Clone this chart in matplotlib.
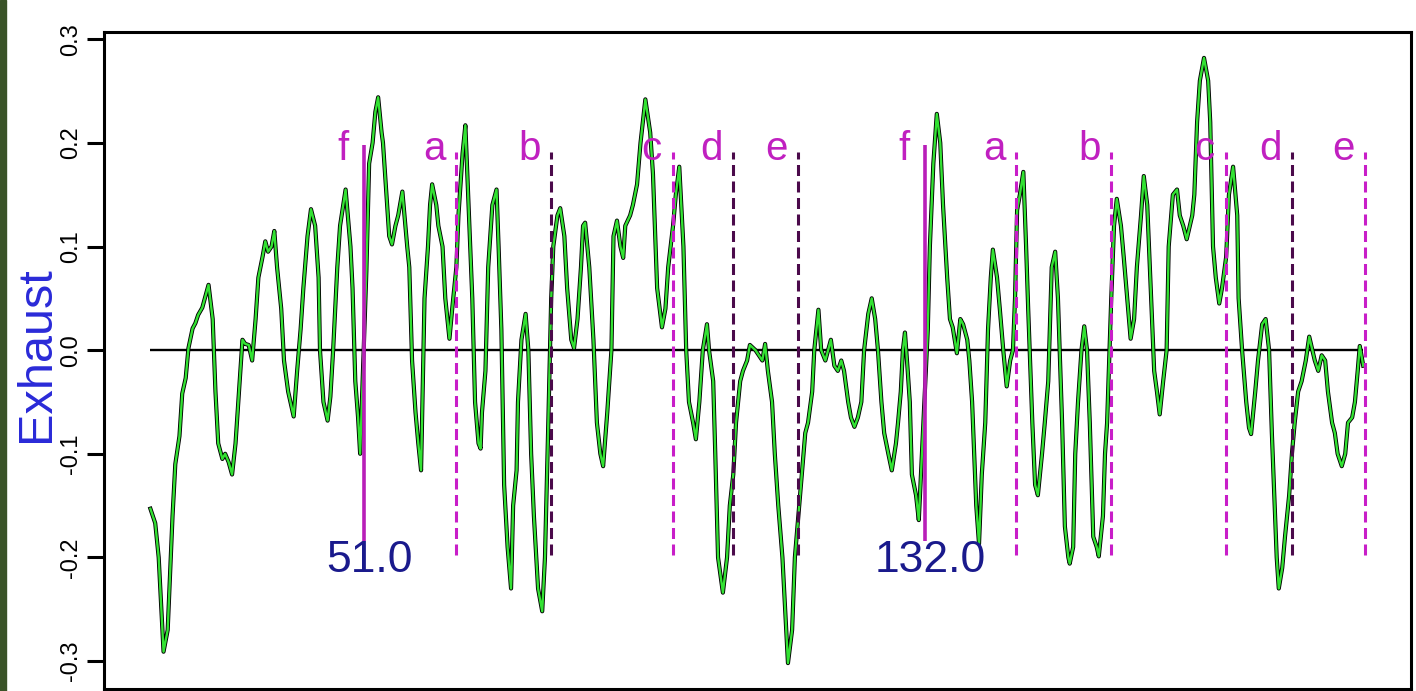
import numpy as np
import matplotlib.pyplot as plt
from matplotlib.patches import Rectangle

plt.rcParams['font.family'] = ['Liberation Sans', 'DejaVu Sans']
plt.rcParams['axes.unicode_minus'] = False

# exhaust trace (time, value) - turning points
trace = [
    (20.1, -0.153), (20.8, -0.167), (21.3, -0.2), (22.0, -0.291), (22.6, -0.27),
    (23.3, -0.16), (23.7, -0.11), (24.3, -0.083), (24.7, -0.042), (25.2, -0.027),
    (25.6, 0.002), (26.2, 0.021), (26.6, 0.026), (27.0, 0.034), (27.6, 0.041),
    (28.5, 0.063), (29.1, 0.03), (29.5, -0.04), (29.9, -0.09), (30.5, -0.105),
    (30.9, -0.1), (31.4, -0.108), (31.9, -0.12), (32.4, -0.09), (32.8, -0.05),
    (33.4, 0.01), (33.8, 0.006), (34.3, 0.005), (34.8, -0.01), (35.3, 0.03),
    (35.7, 0.07), (36.3, 0.09), (36.7, 0.105), (37.1, 0.095), (37.6, 0.1),
    (38.0, 0.115), (38.4, 0.08), (39.0, 0.04), (39.4, -0.01), (40.0, -0.04),
    (40.8, -0.064), (41.3, -0.02), (41.8, 0.02), (42.2, 0.06), (42.8, 0.11),
    (43.3, 0.136), (43.9, 0.12), (44.4, 0.07), (44.6, 0.0), (45.1, -0.05),
    (45.7, -0.068), (46.1, -0.045), (46.5, 0.0), (47.1, 0.08), (47.5, 0.12),
    (48.3, 0.155), (49.0, 0.1), (49.3, 0.06), (49.7, -0.03), (50.1, -0.065),
    (50.4, -0.1), (51.3, 0.076), (51.7, 0.18), (52.2, 0.2), (52.6, 0.23),
    (53.0, 0.244), (53.5, 0.21), (53.7, 0.2), (54.3, 0.14), (54.6, 0.11),
    (55.0, 0.102), (55.5, 0.12), (55.9, 0.13), (56.5, 0.153), (57.2, 0.1),
    (57.5, 0.08), (57.9, -0.01), (58.4, -0.06), (58.8, -0.09), (59.2, -0.116),
    (59.7, 0.05), (60.2, 0.1), (60.5, 0.14), (60.8, 0.16), (61.4, 0.14),
    (61.7, 0.12), (62.3, 0.1), (62.7, 0.05), (63.3, 0.011), (63.7, 0.04),
    (64.3, 0.08), (64.6, 0.13), (65.2, 0.19), (65.6, 0.217), (66.0, 0.15),
    (66.6, 0.05), (67.0, -0.05), (67.5, -0.09), (67.8, -0.095), (68.0, -0.06),
    (68.5, -0.02), (68.9, 0.08), (69.5, 0.14), (70.1, 0.155), (70.4, 0.1),
    (70.8, 0.02), (71.2, -0.13), (71.7, -0.19), (72.2, -0.23), (72.5, -0.15),
    (73.0, -0.116), (73.2, -0.05), (73.7, 0.01), (74.3, 0.035), (74.7, 0.0),
    (75.1, -0.1), (75.5, -0.16), (76.1, -0.23), (76.7, -0.252), (77.1, -0.2),
    (77.6, -0.065), (78.0, 0.05), (78.3, 0.1), (78.9, 0.13), (79.3, 0.137),
    (79.9, 0.11), (80.3, 0.06), (80.9, 0.01), (81.3, 0.002), (81.8, 0.03),
    (82.3, 0.08), (82.6, 0.12), (82.9, 0.123), (83.5, 0.08), (84.1, 0.01),
    (84.6, -0.07), (85.1, -0.1), (85.5, -0.112), (86.1, -0.06), (86.7, 0.0),
    (87.0, 0.11), (87.5, 0.125), (88.0, 0.1), (88.4, 0.089), (88.7, 0.12),
    (89.4, 0.13), (89.8, 0.14), (90.4, 0.16), (90.9, 0.2), (91.6, 0.242),
    (92.3, 0.21), (92.7, 0.17), (93.3, 0.06), (94.0, 0.022), (94.5, 0.04),
    (94.9, 0.08), (95.6, 0.12), (96.0, 0.15), (96.5, 0.177), (97.1, 0.1),
    (97.5, 0.0), (97.9, -0.05), (98.5, -0.07), (98.9, -0.086), (99.4, -0.05),
    (99.9, 0.0), (100.5, 0.025), (100.8, 0.0), (101.4, -0.03), (101.7, -0.1),
    (102.1, -0.2), (102.8, -0.234), (103.4, -0.2), (103.8, -0.15), (104.3, -0.12),
    (104.7, -0.07), (105.3, -0.03), (105.7, -0.02), (106.3, -0.01), (106.7, 0.005),
    (107.5, 0.0), (108.5, -0.01), (108.9, 0.006), (109.3, -0.02), (109.9, -0.05),
    (110.3, -0.1), (110.8, -0.15), (111.4, -0.2), (111.8, -0.25), (112.2, -0.302),
    (112.8, -0.27), (113.2, -0.2), (114.2, -0.12), (114.7, -0.08), (115.1, -0.07),
    (115.7, -0.04), (116.0, 0.0), (116.6, 0.039), (117.0, 0.0), (117.6, -0.01),
    (118.0, 0.0), (118.4, 0.01), (118.9, -0.015), (119.4, -0.02), (119.9, -0.01),
    (120.3, -0.02), (120.9, -0.05), (121.3, -0.065), (121.8, -0.074), (122.3, -0.065),
    (122.8, -0.05), (123.2, 0.0), (123.8, 0.035), (124.3, 0.05), (124.8, 0.03),
    (125.2, 0.0), (125.7, -0.05), (126.1, -0.08), (126.7, -0.1), (127.2, -0.116),
    (127.8, -0.09), (128.1, -0.07), (128.5, -0.04), (128.8, 0.0), (129.1, 0.017),
    (129.5, -0.02), (129.8, -0.05), (130.1, -0.12), (130.7, -0.14), (131.1, -0.164),
    (132.4, 0.02), (132.7, 0.1), (133.2, 0.18), (133.7, 0.228), (134.2, 0.2),
    (134.6, 0.14), (135.2, 0.07), (135.6, 0.03), (136.0, 0.022), (136.6, -0.003),
    (137.1, 0.03), (137.5, 0.025), (138.1, 0.01), (138.4, -0.01), (138.8, -0.05),
    (139.1, -0.1), (139.4, -0.15), (139.8, -0.187), (140.2, -0.12), (140.7, -0.07),
    (141.1, 0.02), (141.5, 0.07), (141.8, 0.097), (142.4, 0.07), (142.8, 0.04),
    (143.3, 0.0), (143.8, -0.035), (144.3, -0.01), (144.7, 0.0), (145.0, 0.05),
    (145.3, 0.135), (145.7, 0.15), (146.2, 0.172), (146.6, 0.1), (146.9, 0.04),
    (147.5, -0.07), (147.9, -0.13), (148.3, -0.14), (148.9, -0.1), (149.3, -0.07),
    (149.8, -0.03), (150.3, 0.08), (150.8, 0.095), (151.2, 0.05), (151.8, -0.07),
    (152.2, -0.17), (152.7, -0.2), (152.9, -0.206), (153.4, -0.19), (153.7, -0.1),
    (154.1, -0.05), (154.6, 0.0), (155.0, 0.023), (155.4, 0.0), (155.8, -0.07),
    (156.3, -0.18), (156.8, -0.19), (157.1, -0.199), (157.7, -0.16), (158.0, -0.1),
    (158.3, -0.07), (158.9, 0.05), (159.3, 0.12), (159.7, 0.146), (160.3, 0.12),
    (160.7, 0.09), (161.2, 0.05), (161.7, 0.011), (162.2, 0.03), (162.6, 0.08),
    (163.2, 0.13), (163.6, 0.168), (164.1, 0.14), (164.6, 0.06), (165.1, -0.02),
    (165.5, -0.04), (165.9, -0.062), (166.4, -0.03), (166.9, 0.0), (167.2, 0.1),
    (167.8, 0.15), (168.4, 0.155), (168.8, 0.13), (169.3, 0.12), (169.8, 0.107),
    (170.6, 0.13), (170.9, 0.15), (171.3, 0.22), (171.7, 0.26), (172.3, 0.282),
    (172.9, 0.26), (173.2, 0.22), (173.6, 0.1), (174.0, 0.07), (174.5, 0.045),
    (174.9, 0.06), (175.5, 0.09), (175.9, 0.15), (176.5, 0.177), (177.1, 0.13),
    (177.3, 0.05), (177.8, 0.0), (178.4, -0.05), (178.8, -0.075), (179.1, -0.081),
    (179.7, -0.04), (180.1, -0.01), (180.7, 0.025), (181.2, 0.03), (181.7, 0.0),
    (182.1, -0.08), (182.5, -0.15), (182.8, -0.2), (183.1, -0.23), (183.6, -0.21),
    (184.0, -0.18), (184.6, -0.14), (185.0, -0.1), (185.4, -0.07), (185.9, -0.04),
    (186.4, -0.03), (187.0, -0.01), (187.5, 0.013), (188.3, -0.01), (188.8, -0.02),
    (189.3, -0.005), (189.8, -0.01), (190.2, -0.04), (190.8, -0.07), (191.2, -0.08),
    (191.6, -0.1), (192.2, -0.112), (192.7, -0.1), (193.1, -0.07), (193.7, -0.065),
    (194.1, -0.05), (194.5, -0.02), (194.8, 0.004), (195.3, -0.015),
]
time = np.array([p[0] for p in trace])
exhaust = np.array([p[1] for p in trace])

# cycle start markers and phase boundaries
f_marks = [51.0, 132.0]
f_labels = ['51.0', '132.0']
phase_marks = [64.3, 78.0, 95.6, 104.3, 113.7, 145.1, 158.9, 175.5, 185.0, 195.5]
phase_names = ['a', 'b', 'c', 'd', 'e', 'a', 'b', 'c', 'd', 'e']
phase_colors = ['#c81ec8', '#4b0a4b', '#c81ec8', '#4b0a4b', '#4b0a4b',
                '#c81ec8', '#c81ec8', '#c81ec8', '#4b0a4b', '#c81ec8']

yticks = [-0.3, -0.2, -0.1, 0.0, 0.1, 0.2, 0.3]
ytick_labels = ['-0.3', '-0.2', '-0.1', '0.0', '0.1', '0.2', '0.3']

fig = plt.figure(figsize=(14.16, 6.91), dpi=100)
ax = fig.add_axes([104 / 1416, 2 / 691, 1307 / 1416, 657 / 691])

# dark strip on the left edge
fig.patches.append(Rectangle((0, 0), 6 / 1416, 1, transform=fig.transFigure,
                             color='#3a5328', zorder=0))

ax.hlines(0, time.min(), time.max(), color='black', linewidth=1.7, zorder=2)

ax.plot(time, exhaust, color='black', linewidth=3.0, zorder=3)
ax.plot(time, exhaust, color='#33e233', linewidth=1.7, zorder=4)

for xm, lab in zip(f_marks, f_labels):
    ax.vlines(xm, -0.184, 0.198, color='#b81eb8', linewidth=2.6, zorder=5)
    ax.text(xm - 3.1, 0.183, 'f', color='#c020c0', fontsize=29,
            ha='center', va='baseline', zorder=6)
    ax.text(xm + 0.8, -0.214, lab, color='#1a1a8c', fontsize=32,
            ha='center', va='baseline', zorder=6)

for xm, name, col in zip(phase_marks, phase_names, phase_colors):
    ax.vlines(xm, -0.198, 0.191, color=col, linewidth=2.2,
              linestyles=(0, (3.6, 1.8)), zorder=5)
    ax.text(xm - 3.1, 0.183, name, color='#c020c0', fontsize=29,
            ha='center', va='baseline', zorder=6)

ax.set_xlim(13.4, 202.2)
ax.set_ylim(-0.327, 0.307)
ax.set_xticks([])
ax.set_yticks(yticks)
ax.set_yticklabels(ytick_labels, rotation=90, va='center', fontsize=17)
ax.tick_params(axis='y', length=12, width=2.2, pad=4)
for sp in ax.spines.values():
    sp.set_linewidth(2.2)

fig.text(37 / 1416, 1 - 354 / 691, 'Exhaust', rotation=90, color='#2a2ad8',
         fontsize=35, ha='center', va='center')

fig.savefig('out.png', dpi=100)
